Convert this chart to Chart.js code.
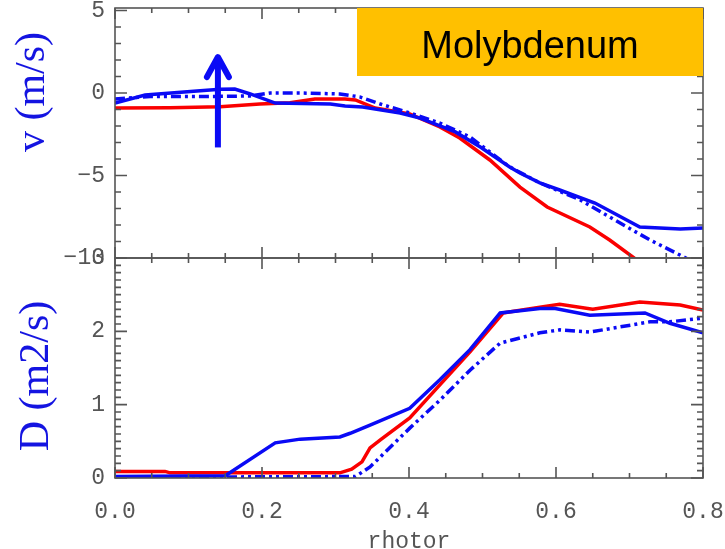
<!DOCTYPE html>
<html>
<head>
<meta charset="utf-8">
<script src="https://cdn.jsdelivr.net/npm/chart.js@4.4.1/dist/chart.umd.min.js"></script>
<style>
  body { margin: 0; background: #fff; width: 725px; height: 549px; overflow: hidden; position: relative; }
  canvas { position: absolute; left: 0; }
  #vChart { top: 0; }
  #dChart { top: 250px; }
</style>
</head>
<body>
<canvas id="vChart" width="725" height="270"></canvas>
<canvas id="dChart" width="725" height="299"></canvas>
<script>
// tick labels
var xTicks = [0, 0.2, 0.4, 0.6, 0.8];
var vTicks = [-10, -5, 0, 5];
var dTicks = [0, 1, 2, 3];

// convection velocity v (m/s) vs rhotor
var vSolidX = [0, 0.041, 0.116, 0.143, 0.163, 0.184, 0.218, 0.293, 0.313, 0.337, 0.388, 0.415, 0.463, 0.497, 0.537, 0.551, 0.578, 0.605, 0.653, 0.714, 0.769, 0.8];
var vSolidY = [-0.61, -0.12, 0.14, 0.22, 0.24, -0.06, -0.61, -0.67, -0.79, -0.85, -1.21, -1.52, -2.36, -3.27, -4.48, -4.85, -5.45, -5.88, -6.67, -8.12, -8.24, -8.18];
var vDashX = [0, 0.048, 0.116, 0.184, 0.211, 0.252, 0.306, 0.333, 0.361, 0.401, 0.442, 0.483, 0.537, 0.578, 0.633, 0.673, 0.728, 0.782];
var vDashY = [-0.36, -0.22, -0.22, -0.18, 0, 0, -0.06, -0.24, -0.67, -1.21, -1.82, -2.67, -4.48, -5.45, -6.48, -7.52, -8.91, -10.12];
var vRedX = [0, 0.075, 0.143, 0.197, 0.238, 0.272, 0.313, 0.327, 0.354, 0.401, 0.442, 0.469, 0.510, 0.551, 0.588, 0.646, 0.673, 0.710];
var vRedY = [-0.91, -0.89, -0.83, -0.67, -0.59, -0.36, -0.36, -0.42, -0.91, -1.27, -2.06, -2.73, -4.06, -5.70, -6.91, -8.12, -8.91, -10.12];

// diffusion D (m2/s) vs rhotor
var dSolidX = [0, 0.15, 0.218, 0.252, 0.306, 0.320, 0.347, 0.401, 0.442, 0.483, 0.524, 0.578, 0.599, 0.646, 0.721, 0.755, 0.8];
var dSolidY = [0.02, 0.03, 0.48, 0.53, 0.56, 0.61, 0.72, 0.95, 1.34, 1.75, 2.25, 2.31, 2.31, 2.22, 2.25, 2.11, 1.98];
var dDashX = [0, 0.327, 0.347, 0.401, 0.442, 0.483, 0.524, 0.578, 0.605, 0.646, 0.728, 0.755, 0.8];
var dDashY = [0.01, 0.02, 0.15, 0.68, 1.06, 1.47, 1.84, 1.98, 2.02, 1.99, 2.13, 2.13, 2.18];
var dRedX = [0, 0.068, 0.075, 0.306, 0.322, 0.336, 0.347, 0.361, 0.401, 0.442, 0.483, 0.528, 0.578, 0.605, 0.650, 0.714, 0.769, 0.8];
var dRedY = [0.09, 0.09, 0.07, 0.07, 0.12, 0.22, 0.41, 0.52, 0.82, 1.27, 1.72, 2.25, 2.33, 2.37, 2.30, 2.40, 2.36, 2.29];

var BLUE = 'rgb(10,10,245)';
var RED = 'rgb(250,0,0)';
var GREY = '#555';
var tickFont = { family: 'Liberation Mono', size: 23 };

function pts(xs, ys) {
  return xs.map(function (x, i) { return { x: x, y: ys[i] }; });
}

function line(xs, ys, color, dash) {
  return {
    data: pts(xs, ys),
    borderColor: color,
    borderWidth: 3.5,
    borderDash: dash || [],
    pointRadius: 0,
    tension: 0,
    fill: false
  };
}

function minus(v) { return String(v).replace('-', '\u2212'); }

// keep the plot box where it is in the figure: no room reserved for label overhang
function fixY(s) { s.width = 115; s.paddingTop = 0; s.paddingBottom = 0; }
function fixX(h) {
  return function (s) { s.height = h; s.paddingLeft = 0; s.paddingRight = 0; };
}

// box round the plot and IDL-style inward ticks on all sides
function frame(yStart, yStep, yCount, yMajorEvery) {
  return {
    id: 'frame',
    afterDatasetsDraw: function (chart) {
      var a = chart.chartArea, x = chart.scales.x, y = chart.scales.y, ctx = chart.ctx;
      ctx.save();
      ctx.strokeStyle = GREY;
      ctx.lineWidth = 1.6;
      ctx.strokeRect(a.left, a.top, a.right - a.left, a.bottom - a.top);
      ctx.beginPath();
      for (var i = 0; i <= 16; i++) {
        var px = x.getPixelForValue(i * 0.05), len = i % 4 === 0 ? 11 : 5;
        ctx.moveTo(px, a.bottom); ctx.lineTo(px, a.bottom - len);
        ctx.moveTo(px, a.top); ctx.lineTo(px, a.top + len);
      }
      for (var j = 0; j < yCount; j++) {
        var py = y.getPixelForValue(yStart + j * yStep), l = j % yMajorEvery === 0 ? 12 : 6;
        ctx.moveTo(a.left, py); ctx.lineTo(a.left + l, py);
        ctx.moveTo(a.right, py); ctx.lineTo(a.right - l, py);
      }
      ctx.stroke();
      ctx.restore();
    }
  };
}

function yTitle(text, cx, cy) {
  return {
    id: 'ytitle',
    afterDraw: function (chart) {
      var ctx = chart.ctx;
      ctx.save();
      ctx.translate(cx, cy);
      ctx.rotate(-Math.PI / 2);
      ctx.fillStyle = 'rgb(20,20,225)';
      ctx.font = '42px "Liberation Serif"';
      ctx.textAlign = 'center';
      ctx.textBaseline = 'middle';
      ctx.fillText(text, 0, 0);
      ctx.restore();
    }
  };
}

var labelAndArrow = {
  id: 'labelAndArrow',
  afterDraw: function (chart) {
    var a = chart.chartArea, x = chart.scales.x, y = chart.scales.y, ctx = chart.ctx;
    ctx.save();
    // element name box
    ctx.fillStyle = '#FFC000';
    ctx.fillRect(a.right - 346, a.top, 346, 68);
    ctx.fillStyle = '#000';
    ctx.font = '38px "Liberation Sans"';
    ctx.textAlign = 'center';
    ctx.textBaseline = 'alphabetic';
    ctx.fillText('Molybdenum', a.right - 173, a.top + 50);
    // arrow
    var ax = x.getPixelForValue(0.14), y0 = y.getPixelForValue(-3.3), y1 = y.getPixelForValue(2.3);
    ctx.strokeStyle = BLUE;
    ctx.lineWidth = 6;
    ctx.beginPath();
    ctx.moveTo(ax, y0); ctx.lineTo(ax, y1 + 3);
    ctx.stroke();
    ctx.lineJoin = 'round';
    ctx.lineCap = 'round';
    ctx.beginPath();
    ctx.moveTo(ax - 11, y1 + 22); ctx.lineTo(ax, y1 + 2); ctx.lineTo(ax + 11, y1 + 22);
    ctx.stroke();
    ctx.restore();
  }
};

var common = {
  responsive: false,
  animation: false,
  plugins: { legend: { display: false }, tooltip: { enabled: false } }
};

new Chart(document.getElementById('vChart'), {
  type: 'line',
  data: {
    datasets: [
      line(vDashX, vDashY, BLUE, [10, 4, 3, 4, 3, 4]),
      line(vSolidX, vSolidY, BLUE),
      line(vRedX, vRedY, RED)
    ]
  },
  options: Object.assign({}, common, {
    layout: { padding: { top: 8, bottom: 12, right: 22, left: 0 } },
    scales: {
      x: { type: 'linear', min: 0, max: 0.8, display: false, afterFit: fixX(0) },
      y: {
        type: 'linear', min: -10, max: 5.15,
        afterFit: fixY,
        afterBuildTicks: function (s) { s.ticks = vTicks.map(function (v) { return { value: v }; }); },
        grid: { display: false, drawTicks: false },
        border: { display: false },
        ticks: { color: GREY, font: tickFont, padding: 10, callback: minus }
      }
    }
  }),
  plugins: [frame(-10, 1, 16, 5), yTitle('v (m/s)', 33, 92), labelAndArrow]
});

new Chart(document.getElementById('dChart'), {
  type: 'line',
  data: {
    datasets: [
      line(dDashX, dDashY, BLUE, [10, 4, 3, 4, 3, 4]),
      line(dSolidX, dSolidY, BLUE),
      line(dRedX, dRedY, RED)
    ]
  },
  options: Object.assign({}, common, {
    layout: { padding: { top: 8, bottom: 0, right: 22, left: 0 } },
    scales: {
      x: {
        type: 'linear', min: 0, max: 0.8,
        afterFit: fixX(71),
        afterBuildTicks: function (s) { s.ticks = xTicks.map(function (v) { return { value: v }; }); },
        grid: { display: false, drawTicks: false },
        border: { display: false },
        ticks: { color: GREY, font: tickFont, padding: 20, maxRotation: 0, autoSkip: false,
                 callback: function (v) { return v.toFixed(1); } },
        title: { display: true, text: 'rhotor', color: GREY, font: { family: 'Liberation Mono', size: 23 },
                 padding: { top: 0, bottom: -7 } }
      },
      y: {
        type: 'linear', min: 0, max: 3,
        afterFit: fixY,
        afterBuildTicks: function (s) { s.ticks = dTicks.map(function (v) { return { value: v }; }); },
        grid: { display: false, drawTicks: false },
        border: { display: false },
        ticks: { color: GREY, font: tickFont, padding: 10, callback: minus }
      }
    }
  }),
  plugins: [frame(0, 0.1, 31, 10), yTitle('D (m2/s)', 37, 126)]
});
</script>
</body>
</html>
